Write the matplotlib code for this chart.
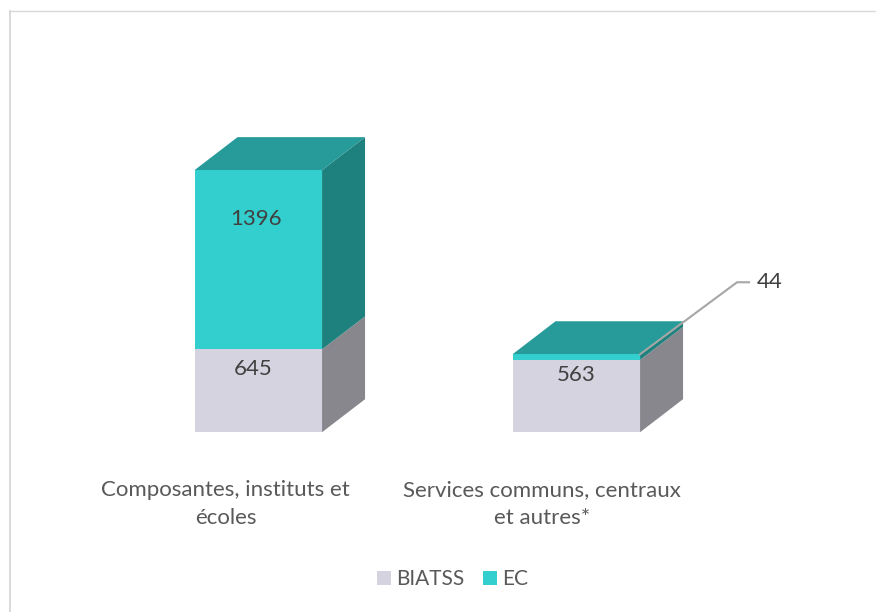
import matplotlib
matplotlib.use("Agg")
import matplotlib.pyplot as plt
from matplotlib.patches import Polygon, Rectangle
from matplotlib.lines import Line2D

plt.rcParams['font.family'] = ['Lato', 'DejaVu Sans']

categories = ["Composantes, instituts et\nécoles", "Services communs, centraux\net autres*"]
biatss = [645, 563]
ec = [1396, 44]
series_names = ["BIATSS", "EC"]

W, H = 876, 612
fig = plt.figure(figsize=(W / 100, H / 100), dpi=100)
ax = fig.add_axes([0, 0, 1, 1])

# scales: 318 px between categories, 0.1284 px per unit
PX_X = 318.0
PX_Y = 0.1284
X0, Y0 = 258.3, 432.2
ax.set_xlim(-X0 / PX_X, (W - X0) / PX_X)
ax.set_ylim(-(H - Y0) / PX_Y, Y0 / PX_Y)
ax.axis("off")

BAR_W = 127.5 / PX_X
DX = 43.0 / PX_X
DY = 33.0 / PX_Y

C = {
    "BIATSS": dict(front="#D4D3DF", side="#88878E", top="#A9A8B2"),
    "EC": dict(front="#32CFCE", side="#1E817E", top="#269B9A"),
}


def box(x, bottom, height, col, z, with_top):
    l, r = x - BAR_W / 2, x + BAR_W / 2
    t = bottom + height
    ax.bar(x, height, BAR_W, bottom=bottom, color=col["front"], linewidth=0, zorder=z + 0.2)
    ax.add_patch(Polygon([(r, bottom), (r + DX, bottom + DY), (r + DX, t + DY), (r, t)],
                         closed=True, fc=col["side"], ec="none", zorder=z))
    if with_top:
        ax.add_patch(Polygon([(l, t), (l + DX, t + DY), (r + DX, t + DY), (r, t)],
                             closed=True, fc=col["top"], ec="none", zorder=z + 0.1))


TXT = "#404040"
FS = 16
label_dx = [-32.5 / PX_X, -34 / PX_X]
for i, cat in enumerate(categories):
    box(i, 0, biatss[i], C["BIATSS"], 2, False)
    box(i, biatss[i], ec[i], C["EC"], 3, True)
    ax.text(i + label_dx[i], -48 / PX_Y, cat, ha="center", va="top",
            fontsize=FS, color="#595959", linespacing=1.49, zorder=6)

# value labels
ax.text(-0.017, 645 * 0.76, str(biatss[0]), ha="center", va="center", fontsize=FS, color=TXT, zorder=6)
ax.text(-0.008, 645 + 1396 * 0.725, str(ec[0]), ha="center", va="center", fontsize=FS, color=TXT, zorder=6)
ax.text(1.0, 563 * 0.79, str(biatss[1]), ha="center", va="center", fontsize=FS, color=TXT, zorder=6)

# leader line for the small EC value
top2 = biatss[1] + ec[1]
lx0, ly0 = 1 + BAR_W / 2, top2
lx1, ly1 = lx0 + 97 / PX_X, top2 + 72 / PX_Y
lx2 = lx1 + 12 / PX_X
ax.plot([lx0, lx1, lx2], [ly0, ly1, ly1], color="#A6A6A6", lw=1.5, zorder=7, solid_joinstyle="miter")
ax.text(lx2 + 8 / PX_X, ly1, str(ec[1]), ha="left", va="center", fontsize=FS, color=TXT, zorder=7)

# legend
handles = [Rectangle((0, 0), 1, 1, fc=C[n]["front"], ec="none") for n in series_names]
ax.legend(handles, series_names, loc="center", bbox_to_anchor=(452.5 / W, 1 - 579 / H),
          ncol=2, frameon=False, fontsize=15, labelcolor="#595959",
          handlelength=0.67, handleheight=0.67, handletextpad=0.25, columnspacing=0.87,
          borderpad=0, borderaxespad=0)

# chart frame (left and top edges visible in the crop)
fig.add_artist(Line2D([10 / W, 10 / W], [0, 1 - 10.5 / H], color="#D9D9D9", lw=1.4))
fig.add_artist(Line2D([10 / W, 1], [1 - 10.5 / H, 1 - 10.5 / H], color="#D9D9D9", lw=1.0))

fig.savefig("out.png", dpi=100)
